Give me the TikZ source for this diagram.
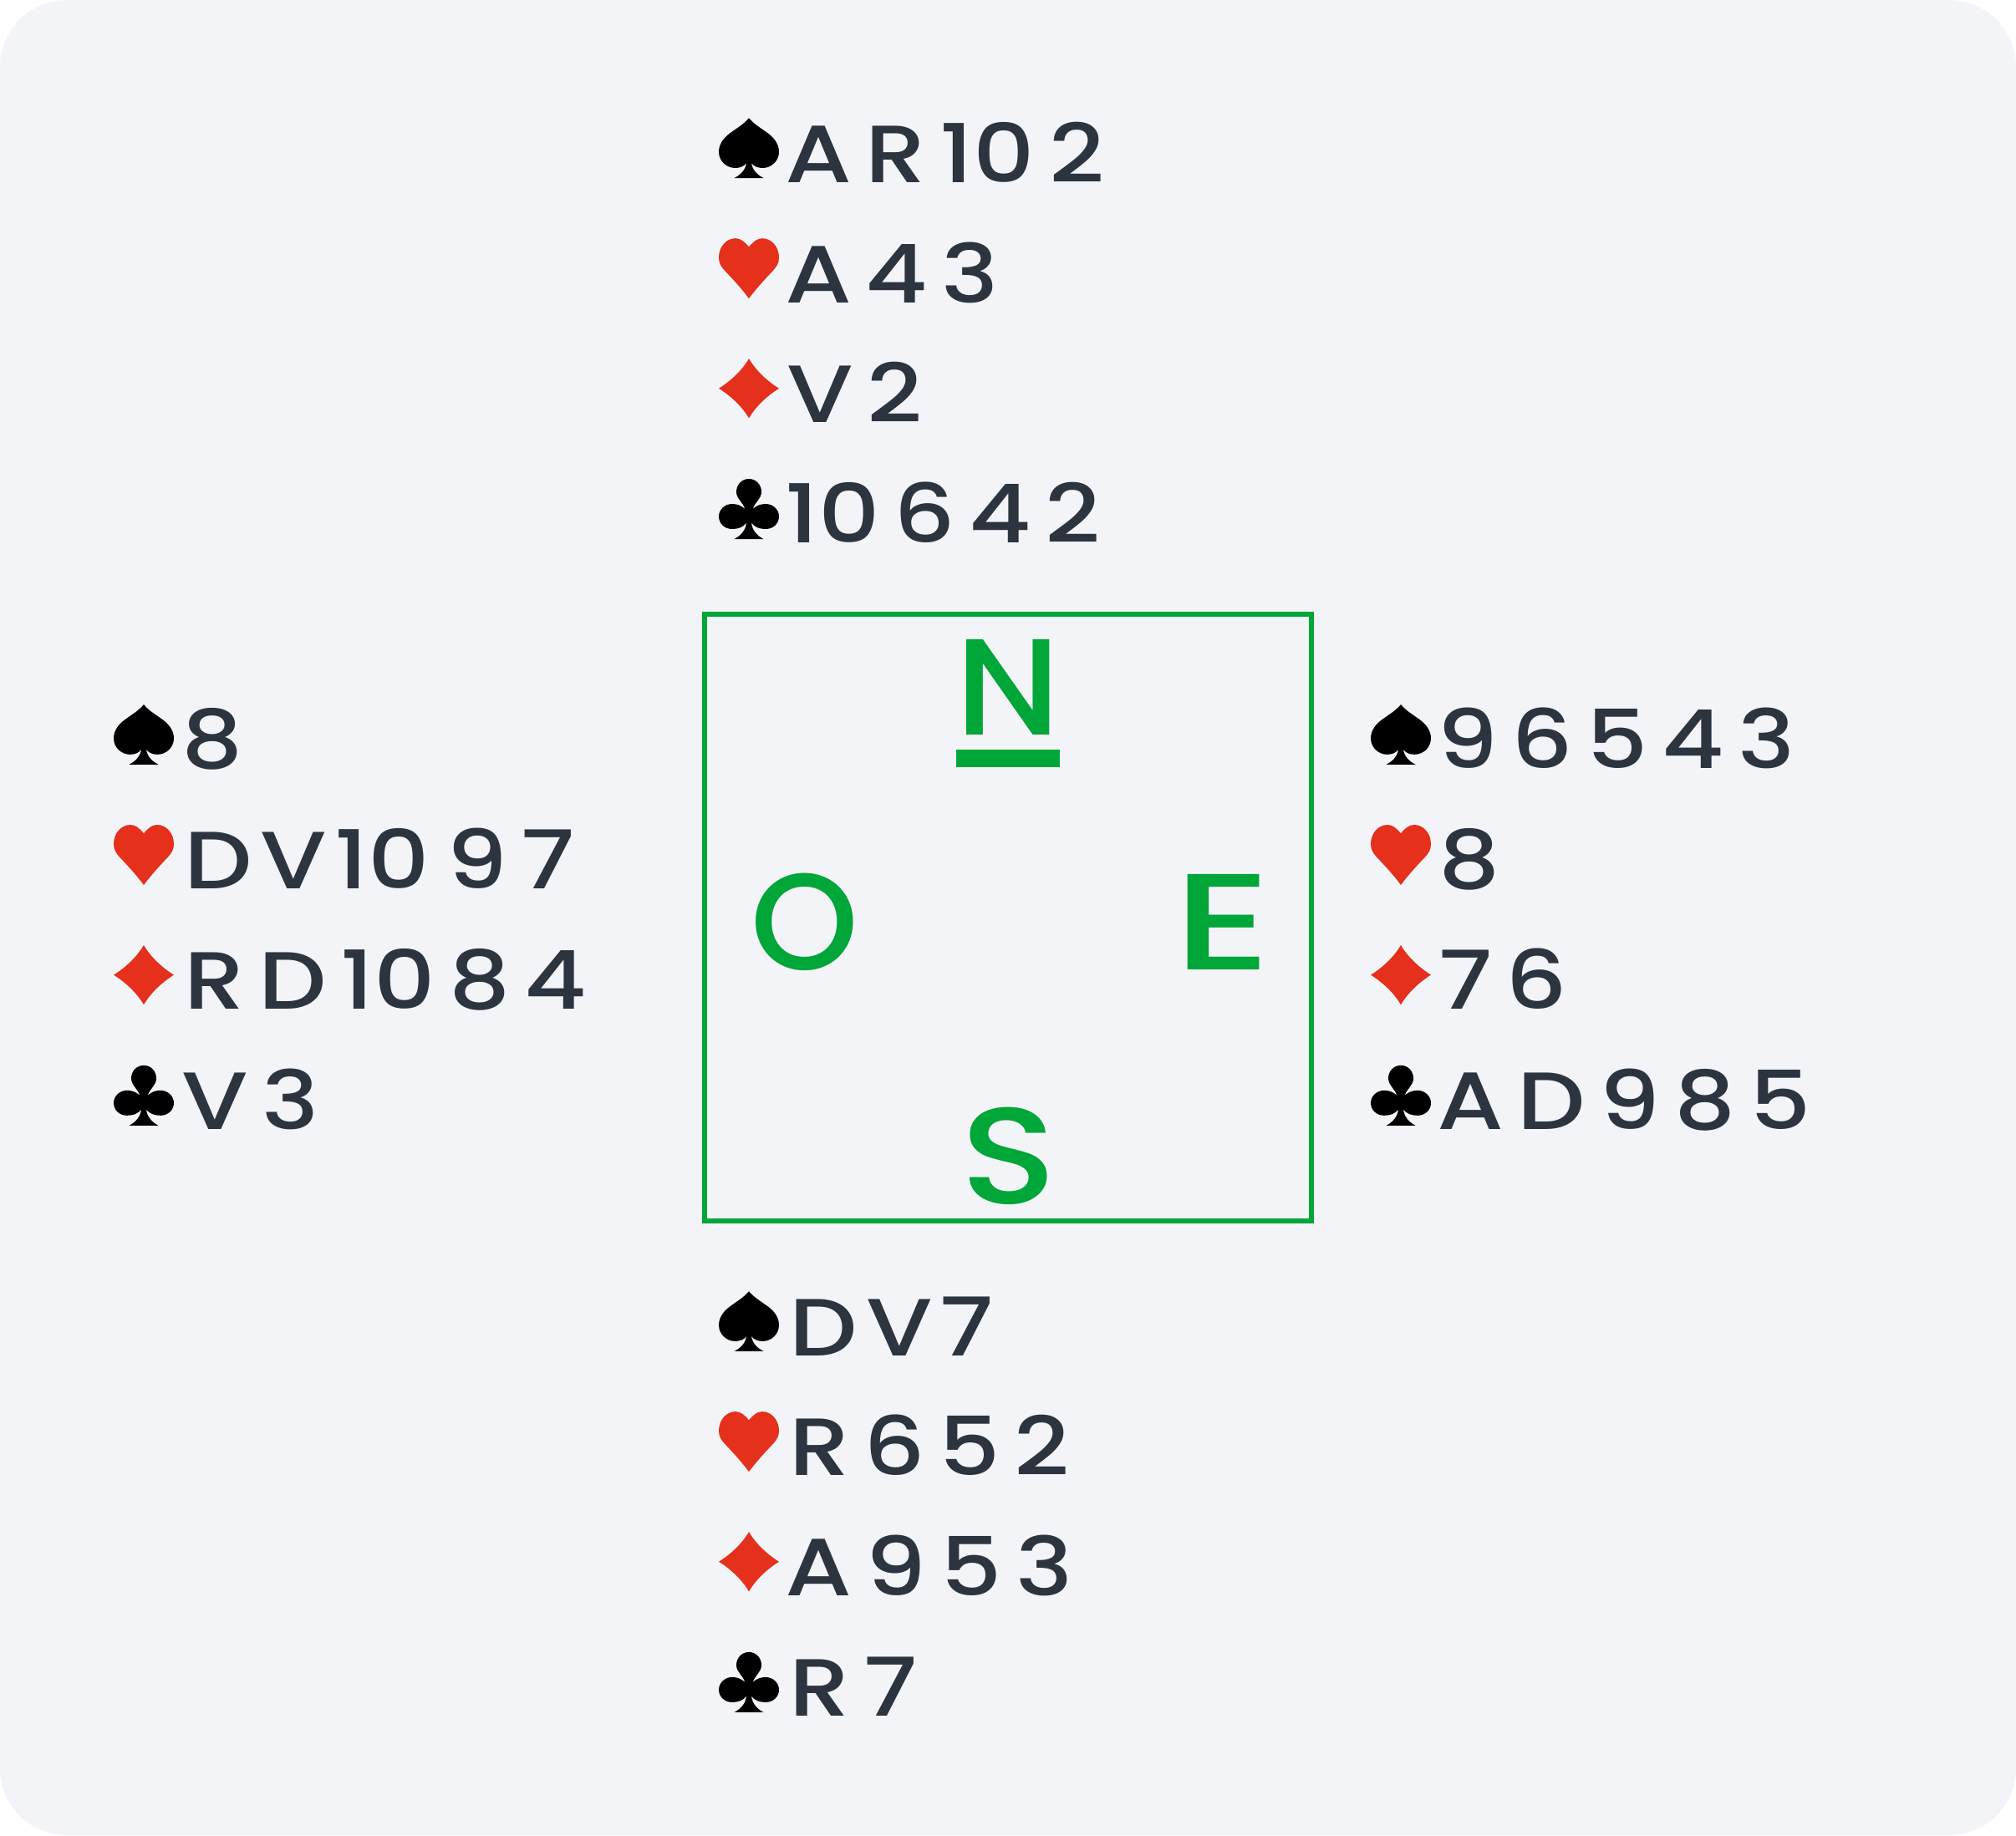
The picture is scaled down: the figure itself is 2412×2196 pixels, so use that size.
\documentclass[tikz,border=0pt]{standalone}
\usepackage{fontspec}
\newfontfamily\handfont[FakeStretch=1.18,WordSpace=0.56]{Poppins Medium}
\newfontfamily\seatfont{Poppins Medium}
\newfontfamily\seatNfont[FakeStretch=1.06]{Poppins Medium}
\newfontfamily\seatEfont[FakeStretch=1.36]{Poppins Medium}
\newfontfamily\seatSfont[FakeStretch=1.16]{Poppins Medium}
\definecolor{pagebg}{HTML}{F3F4F8}
\definecolor{inkc}{HTML}{2C3440}
\definecolor{greenc}{HTML}{00A638}
\definecolor{redc}{HTML}{E5301C}
\tikzset{
  x=0.5pt,y=-0.5pt,
  cards/.style={anchor=base west,inner sep=0pt,outer sep=0pt,text=inkc,font=\handfont\fontsize{48.6}{48.6}\selectfont},
  seat/.style={inner sep=0pt,outer sep=0pt,text=greenc,font=\fontsize{82}{82}\selectfont},
  spadeicon/.pic={\fill[black] (36,0) .. controls (43,8) and (49,11) .. (55,15.5) .. controls (65,22) and (72,30) .. (72,40.5) .. controls (72,51) and (63,59.7) .. (52.5,59.7) .. controls (47,59.7) and (42,58) .. (39,53.7) .. controls (40,62) and (46,68) .. (53.5,71.7) -- (18.5,71.7) .. controls (26,68) and (32,62) .. (33,53.7) .. controls (30,58) and (25,59.7) .. (19.5,59.7) .. controls (9,59.7) and (0,51) .. (0,40.5) .. controls (0,30) and (7,22) .. (17,15.5) .. controls (23,11) and (29,8) .. (36,0) -- cycle;},
  hearticon/.pic={\fill[redc] (36,10.3) .. controls (41,4) and (46,0) .. (52,0) .. controls (63,0) and (72,10) .. (72,23) .. controls (72,30) and (69,34) .. (65,38.5) .. controls (55,49) and (44,61) .. (36,72) .. controls (28,61) and (17,49) .. (7,38.5) .. controls (3,34) and (0,30) .. (0,23) .. controls (0,10) and (9,0) .. (20,0) .. controls (26,0) and (31,4) .. (36,10.3) -- cycle;},
  diamondicon/.pic={\fill[redc] (36,0) .. controls (44,14) and (58,27) .. (72,35.7) .. controls (58,44.4) and (44,57.4) .. (36,71.4) .. controls (28,57.4) and (14,44.4) .. (0,35.7) .. controls (14,27) and (28,14) .. (36,0) -- cycle;},
  clubicon/.pic={\fill[black] (36,0) .. controls (44.5,0) and (51,7) .. (51,15.5) .. controls (51,24) and (43,28) .. (40.7,36) .. controls (45,32) and (50,30) .. (56,30) .. controls (65,30) and (72,37) .. (72,45) .. controls (72,53.5) and (65,60) .. (56,60) .. controls (49,60) and (43,58) .. (39,52.7) .. controls (40,62) and (46,68) .. (53.3,72) -- (18.7,72) .. controls (26,68) and (32,62) .. (33,52.7) .. controls (29,58) and (23,60) .. (16,60) .. controls (7,60) and (0,53.5) .. (0,45) .. controls (0,37) and (7,30) .. (16,30) .. controls (22,30) and (27,32) .. (31.3,36) .. controls (29,28) and (21,24) .. (21,15.5) .. controls (21,7) and (27.5,0) .. (36,0) -- cycle;}
}
\newcommand{\handrows}[8]{%
  \pic at (#2,#3) {spadeicon};
  \pic at (#2,#3+143.9) {hearticon};
  \pic at (#2,#3+287.8) {diamondicon};
  \pic at (#2,#3+431.7) {clubicon};
  \node[cards] (#1s) at (#2+#4,#3+76.8) {#5};
  \node[cards] (#1h) at (#2+#4,#3+220.7) {#6};
  \node[cards] (#1d) at (#2+#4,#3+364.6) {#7};
  \node[cards] (#1c) at (#2+#4,#3+508.5) {#8};
}
\newcommand{\ka}{\kern-2.5pt}
\newcommand{\kv}{\kern-1.5pt}
\begin{document}
\begin{tikzpicture}
\useasboundingbox (0,0) rectangle (2412,2196);
\fill[pagebg,rounded corners=40pt] (0,0) rectangle (2412,2196);
\handrows{n}{860}{141.3}{84}{\ka A R 10 2}{\ka A 4 3}{\kv V 2}{\ka 10 6 4 2}
\handrows{w}{136}{843.1}{84}{\kv 8}{D\kern-3pt{} V\kern-3.8pt{} 10\kern1.5pt{} 9 7}{R D 10 8 4}{\kv V 3}
\handrows{e}{1640}{843.1}{84}{\ka 9 6 5 4 3}{\kv 8}{\kv 7 6}{\ka A D 9 8 5}
\handrows{s}{860}{1545.2}{84}{D\kern-3pt{} V\kern-3.8pt{} 7}{R 6 5 2}{\ka A 9 5 3}{R 7}
\draw[greenc,line width=3pt] (843,735) rectangle (1569,1461);
\node[seat,font=\seatNfont\fontsize{82}{82}\selectfont] (north) at (1206,822.5) {N};
\node[seat,font=\seatfont\fontsize{82}{82}\selectfont] (west) at (963,1103) {O};
\node[seat,font=\seatEfont\fontsize{82}{82}\selectfont] (east) at (1463,1103) {E};
\node[seat,font=\seatSfont\fontsize{82}{82}\selectfont] (south) at (1207,1383) {S};
\fill[greenc] (1144,897) rectangle (1268,918);
\end{tikzpicture}
\end{document}
